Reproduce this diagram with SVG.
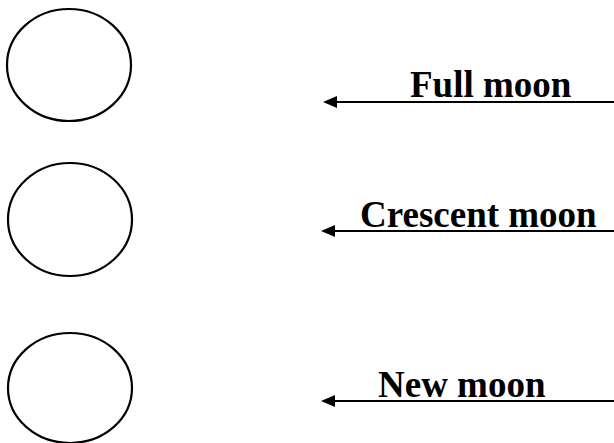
<svg xmlns="http://www.w3.org/2000/svg" width="614" height="443" viewBox="0 0 614 443">
<style>
.moon{fill:none;stroke:#000;stroke-width:2.2}
.lbl{font-family:"Liberation Serif","Times New Roman",serif;font-weight:bold;font-size:37px;fill:#000}
.arr{stroke:#000;stroke-width:2;fill:none}
.head{fill:#000}
</style>
<rect width="614" height="443" fill="#fff"/>
<g id="moon1"><ellipse class="moon" cx="69" cy="65" rx="62" ry="56"/></g>
<g id="moon2"><ellipse class="moon" cx="70" cy="219.5" rx="62" ry="56.5"/></g>
<g id="moon3"><ellipse class="moon" cx="70" cy="388" rx="62" ry="55"/></g>
<g id="connectors">
<line class="arr" x1="614" y1="102" x2="330" y2="102"/>
<path class="head" d="M323,102 L337,96 L337,108 Z"/>
<line class="arr" x1="614" y1="231" x2="328" y2="231"/>
<path class="head" d="M321,231 L335,225 L335,237 Z"/>
<line class="arr" x1="614" y1="401" x2="328" y2="401"/>
<path class="head" d="M321,401 L335,395 L335,407 Z"/>
</g>
<g id="label1"><text class="lbl" x="410" y="97">Full moon</text></g>
<g id="label2"><text class="lbl" x="360" y="227">Crescent moon</text></g>
<g id="label3"><text class="lbl" x="378" y="397">New moon</text></g>
</svg>
